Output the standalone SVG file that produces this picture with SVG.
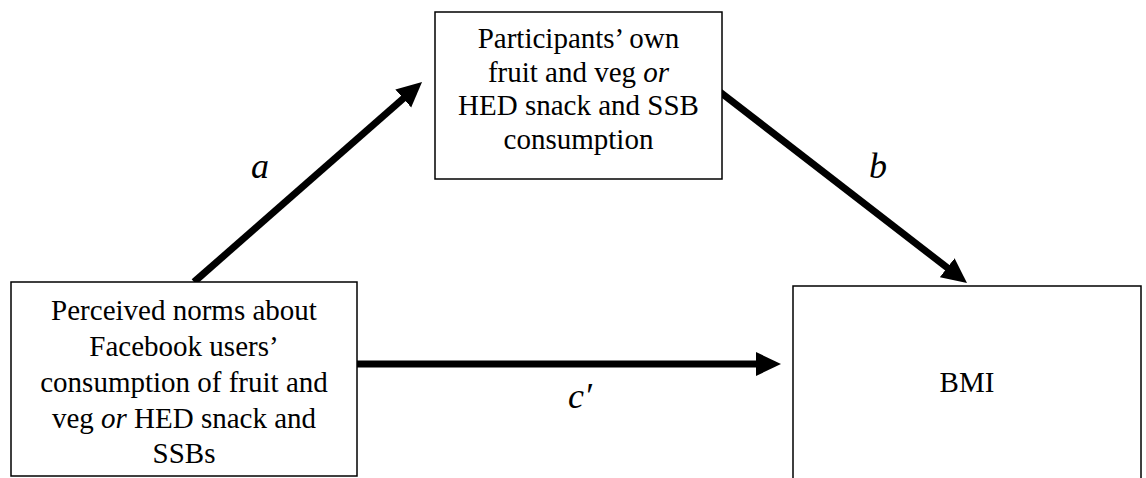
<svg xmlns="http://www.w3.org/2000/svg" width="1146" height="478" viewBox="0 0 1146 478">
  <style>
    .box { fill: #ffffff; stroke: #000000; stroke-width: 1.5; }
    .t { font-size: 29px; fill: #000000; text-anchor: middle; }
    .lbl { font-size: 36px; font-style: italic; fill: #000000; text-anchor: middle; }
    .edge { stroke: #000000; stroke-width: 7; fill: none; marker-end: url(#ah); }
  </style>
  <defs>
    <marker id="ah" markerUnits="userSpaceOnUse" markerWidth="26" markerHeight="26" viewBox="0 -13 26 26" refX="1" refY="0" orient="auto">
      <path d="M0,-12 L25,0 L0,12 z" fill="#000000"/>
    </marker>
  </defs>
  <rect width="1146" height="478" fill="#ffffff"/>
  <g id="connectors" font-family="Liberation Serif, serif">
    <line class="edge" x1="194" y1="282" x2="404" y2="97.8"/>
    <line class="edge" x1="720" y1="92" x2="948" y2="268.3"/>
    <line class="edge" x1="357" y1="364" x2="757" y2="364"/>
    <text class="lbl" x="260" y="178">a</text>
    <text class="lbl" x="878" y="178">b</text>
    <text class="lbl" x="580" y="408">c′</text>
  </g>
  <g id="mediator" font-family="Liberation Serif, serif">
    <rect class="box" x="435" y="12" width="287" height="167"/>
    <text class="t" x="578.5" y="48">Participants’ own</text>
    <text class="t" x="578.5" y="82">fruit and veg <tspan font-style="italic">or</tspan></text>
    <text class="t" x="578.5" y="115">HED snack and SSB</text>
    <text class="t" x="578.5" y="149">consumption</text>
  </g>
  <g id="predictor" font-family="Liberation Serif, serif">
    <rect class="box" x="11" y="282" width="346" height="194"/>
    <text class="t" x="184" y="320">Perceived norms about</text>
    <text class="t" x="184" y="356">Facebook users’</text>
    <text class="t" x="184" y="392">consumption of fruit and</text>
    <text class="t" x="184" y="428">veg <tspan font-style="italic">or</tspan> HED snack and</text>
    <text class="t" x="184" y="463">SSBs</text>
  </g>
  <g id="outcome" font-family="Liberation Serif, serif">
    <rect class="box" x="793" y="286" width="348" height="200"/>
    <text class="t" x="967" y="392">BMI</text>
  </g>
</svg>
